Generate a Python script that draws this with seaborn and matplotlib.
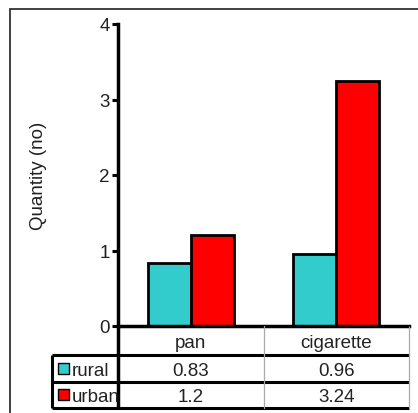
import matplotlib
matplotlib.use("Agg")
import matplotlib.pyplot as plt
from matplotlib.lines import Line2D
from matplotlib.patches import Rectangle
from matplotlib.transforms import blended_transform_factory
import seaborn as sns
import pandas as pd

# Data
categories = ["pan", "cigarette"]
series = ["rural", "urban"]
rural = [0.83, 0.96]
urban = [1.2, 3.24]
yticks = [0, 1, 2, 3, 4]
colors = ["#33CCCC", "#FF0000"]

df = pd.DataFrame({
    "category": categories * 2,
    "series": [series[0]] * len(categories) + [series[1]] * len(categories),
    "value": rural + urban,
})

sns.set_style("white")
plt.rcParams["font.family"] = ["Liberation Sans", "DejaVu Sans"]
FS = 13.5
TXT = "#222222"

W, H = 418, 414
fig = plt.figure(figsize=(W / 100, H / 100), dpi=100)


def fx(px):
    return px / W


def fy(py):
    return 1 - py / H


ax_left, ax_right, ax_top, ax_bottom = 118, 409, 25, 327
ax = fig.add_axes([fx(ax_left), fy(ax_bottom), fx(ax_right - ax_left), (ax_bottom - ax_top) / H])

sns.barplot(data=df, x="category", y="value", hue="series", order=categories,
            hue_order=series, palette=colors, width=0.59, gap=0,
            edgecolor="black", linewidth=2, saturation=1, ax=ax, legend=False)

ax.set_xlim(-0.5, len(categories) - 0.5)
ax.set_ylim(0, 4)
ax.set_yticks(yticks)
ax.set_yticklabels([str(t) for t in yticks], fontsize=FS, color=TXT)
for lbl in ax.get_yticklabels():
    lbl.set_verticalalignment("center_baseline")
ax.set_xticks([])
ax.set_xlabel("")
ax.set_ylabel("Quantity (no)", fontsize=FS, color=TXT)
ax.yaxis.set_label_coords(-0.245, 0.5)
ax.tick_params(axis="y", direction="out", length=4, width=2.2, color="black", pad=2, left=True)
for side in ["top", "right"]:
    ax.spines[side].set_visible(False)
for side in ["left", "bottom"]:
    ax.spines[side].set_linewidth(2.5)
    ax.spines[side].set_color("black")

# Outer frame
fig.add_artist(Rectangle((fx(10), fy(430)), fx(430), (430 - 10) / H,
                         fill=False, edgecolor="#333333", linewidth=1.3,
                         transform=fig.transFigure))

# Data table under the axes
tbl_left = 52
row_top, row1, row2, row_bot = 327, 356, 383, 409


def hline(y, x0, x1, color="black", lw=2.2):
    fig.add_artist(Line2D([fx(x0), fx(x1)], [fy(y), fy(y)], color=color,
                          linewidth=lw, transform=fig.transFigure, solid_capstyle="butt"))


def vline(x, y0, y1, color="black", lw=2.2):
    fig.add_artist(Line2D([fx(x), fx(x)], [fy(y0), fy(y1)], color=color,
                          linewidth=lw, transform=fig.transFigure, solid_capstyle="butt"))


hline(row1, tbl_left, ax_right)
hline(row2, tbl_left, ax_right)
hline(row_bot, tbl_left, ax_right)
vline(tbl_left, row1, row_bot)
vline(ax_left, row_top, row_bot, lw=2.5)
vline(ax_right, row_top, row_bot, color="#AAAAAA", lw=0.9)

# Column separators between categories, placed on the axis scale
blend = blended_transform_factory(ax.transData, fig.transFigure)
for i in range(len(categories) - 1):
    fig.add_artist(Line2D([i + 0.5, i + 0.5], [fy(row_top), fy(row_bot)], color="#AAAAAA",
                          linewidth=0.9, transform=blend, clip_on=False))

txt_kw = dict(fontsize=FS, color=TXT, ha="center", va="center_baseline")
for i, cat in enumerate(categories):
    fig.text(i, fy((row_top + row1) / 2), cat, transform=blend, **txt_kw)
    fig.text(i, fy((row1 + row2) / 2), f"{rural[i]:g}", transform=blend, **txt_kw)
    fig.text(i, fy((row2 + row_bot) / 2), f"{urban[i]:g}", transform=blend, **txt_kw)

# Legend keys in the row headers
for (y0, y1), name, col in zip([(row1, row2), (row2, row_bot)], series, colors):
    yc = (y0 + y1) / 2
    fig.add_artist(Rectangle((fx(58), fy(yc + 5)), fx(11), 11 / H, facecolor=col,
                             edgecolor="black", linewidth=1.0, transform=fig.transFigure))
    fig.text(fx(71.5), fy(yc), name, fontsize=FS, color=TXT,
             ha="left", va="center_baseline")

fig.savefig("out.png", dpi=100)
